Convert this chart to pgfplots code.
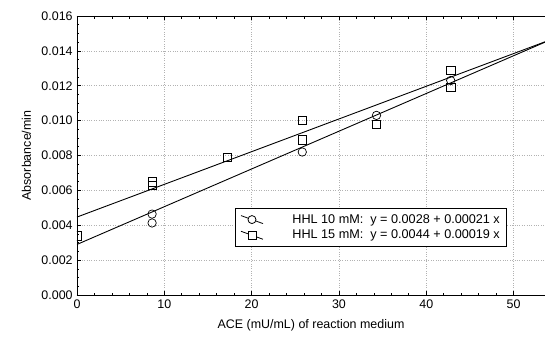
\documentclass[border=0pt]{standalone}
\usepackage{fontspec}
\setmainfont{Liberation Sans}
\usepackage{pgfplots}
\pgfplotsset{compat=1.18}
\begin{document}
\fontsize{12.5}{14.5}\selectfont
\begin{tikzpicture}
\useasboundingbox (-77bp,-46bp) rectangle (468bp,295bp);
\begin{axis}[
  scale only axis,
  width=468bp, height=279bp,
  xmin=0, xmax=53.6, ymin=0, ymax=0.016,
  axis y line*=left,
  xtick={0,10,20,30,40,50},
  ytick={0,0.002,0.004,0.006,0.008,0.010,0.012,0.014,0.016},
  minor x tick num=4,
  minor y tick num=3,
  tick align=inside,
  major tick length=4bp, minor tick length=2.5bp,
  scaled y ticks=false,
  ticklabel style={font=\fontsize{12.5}{14.5}\selectfont},
  yticklabel style={/pgf/number format/.cd, fixed, fixed zerofill, precision=3},
  /pgf/number format/assume math mode=true,
  grid=major,
  major grid style={dotted, gray!60, line width=0.7pt},
  axis line style={line width=1pt},
  tick style={black, line width=0.6pt},
  xlabel={ACE (mU/mL) of reaction medium},
  ylabel={Absorbance/min},
  label style={font=\fontsize{12.5}{14.5}\selectfont},
  xlabel style={yshift=-3bp},
  ylabel style={yshift=2bp},
  clip mode=individual,
  clip marker paths=true,
  legend style={at={(0.338,0.172)}, anchor=south west, draw=black, line width=0.8pt,
    inner xsep=5bp, inner ysep=4bp, font=\fontsize{12.7}{14.5}\selectfont,
    row sep=1bp},
  legend cell align=left,
]
% circles HHL 10 mM
\addplot[only marks, mark=o, mark size=4.2bp, mark options={line width=0.7pt, fill=none}, forget plot] coordinates {
 (8.6,0.00464) (8.6,0.00413) (25.8,0.0082) (34.3,0.0103) (42.8,0.0123)
};
% squares HHL 15 mM
\addplot[only marks, mark=square, mark size=4.2bp, mark options={line width=0.7pt}, forget plot] coordinates {
 (0,0.0034) (8.6,0.0065) (8.6,0.0063) (17.2,0.0079) (25.8,0.0100) (25.8,0.0089) (34.3,0.0098) (42.8,0.0129) (42.8,0.0119)
};
% fit lines
\addplot[black, line width=0.9pt,
  legend image code/.code={
    \draw[black, line width=0.8pt] (0bp,4bp) -- (22bp,-4bp);
    \draw[black, line width=0.8pt, fill=white] (11bp,0bp) circle (4bp);
  }] coordinates {(0,0.0029) (53.6,0.0145)};
\addlegendentry{\hspace{27bp}HHL 10 mM:\ \ y = 0.0028 + 0.00021 x\hspace{13bp}}
\addplot[black, line width=0.9pt,
  legend image code/.code={
    \draw[black, line width=0.8pt] (0bp,4bp) -- (22bp,-4bp);
    \draw[black, line width=0.8pt, fill=white] (7bp,-4bp) rectangle (15bp,4bp);
  }] coordinates {(0,0.00447) (53.6,0.01452)};
\addlegendentry{\hspace{27bp}HHL 15 mM:\ \ y = 0.0044 + 0.00019 x\hspace{13bp}}
\end{axis}
\end{tikzpicture}
\end{document}
